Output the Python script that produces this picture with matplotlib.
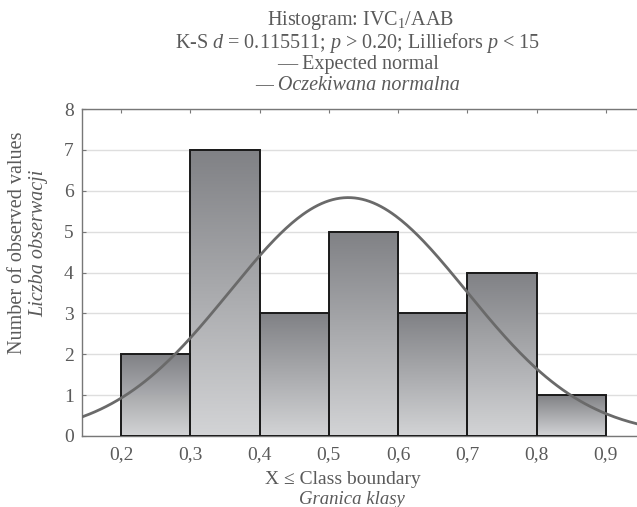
import numpy as np
import matplotlib
matplotlib.use("Agg")
import matplotlib.pyplot as plt
from matplotlib.colors import LinearSegmentedColormap

plt.rcParams['font.family'] = ['Liberation Serif', 'DejaVu Serif']
plt.rcParams['mathtext.fontset'] = 'custom'
plt.rcParams['mathtext.rm'] = 'Liberation Serif'
plt.rcParams['mathtext.it'] = 'Liberation Serif:italic'

# Data
bin_edges = [0.2, 0.3, 0.4, 0.5, 0.6, 0.7, 0.8, 0.9]
counts = [2, 7, 3, 5, 3, 4, 1]
x_ticks = [0.2, 0.3, 0.4, 0.5, 0.6, 0.7, 0.8, 0.9]
x_tick_labels = ["0,2", "0,3", "0,4", "0,5", "0,6", "0,7", "0,8", "0,9"]
y_ticks = [0, 1, 2, 3, 4, 5, 6, 7, 8]
# expected normal parameters
norm_mean = 0.528
norm_sd = 0.171
n_obs = 25

TXT = '#5a5a5a'
fig = plt.figure(figsize=(6.37, 5.07), dpi=100)
ax = fig.add_axes([82/637, 1-436/507, 1-82/637, (436-109)/507])

cmap = LinearSegmentedColormap.from_list('g', ['#d3d4d6', '#808185'])
grad = np.linspace(0, 1, 256).reshape(-1, 1)
lefts = bin_edges[:-1]
widths = np.diff(bin_edges)
bars = ax.bar(lefts, counts, width=widths, align='edge', facecolor='none',
              edgecolor='#1a1a1a', linewidth=1.4, zorder=3)
for b in bars:
    x0, w, h = b.get_x(), b.get_width(), b.get_height()
    ax.imshow(grad, cmap=cmap, origin='lower', aspect='auto',
              extent=[x0, x0 + w, 0, h], zorder=2, interpolation='bilinear')
ax.set_xlim(0.1436, 0.945)
ax.set_ylim(0, 8)

xs = np.linspace(0.1436, 0.945, 300)
binw = bin_edges[1] - bin_edges[0]
ys = n_obs * binw / (norm_sd * np.sqrt(2 * np.pi)) * np.exp(-0.5 * ((xs - norm_mean) / norm_sd) ** 2)
ax.plot(xs, ys, color='#6a6a6a', lw=2.0, zorder=4)

ax.set_yticks(y_ticks)
ax.set_xticks(x_ticks)
ax.set_xticklabels(x_tick_labels)
ax.yaxis.grid(True, color='#dedede', lw=1.0, zorder=0)
ax.set_axisbelow(True)
ax.spines['right'].set_visible(False)
for s in ['left', 'top', 'bottom']:
    ax.spines[s].set_color('#777777')
    ax.spines[s].set_linewidth(1.0)
ax.tick_params(axis='y', direction='in', length=3, color='#777777', labelcolor=TXT,
               labelsize=14, pad=6)
ax.tick_params(axis='x', direction='in', length=3, color='#777777', labelcolor=TXT,
               labelsize=14, bottom=False, top=True, pad=7)

fs = 14.5
fig.text(360/637, 1-21/507, r"Histogram: IVC$_{\mathregular{1}}$/AAB", ha='center', va='center', fontsize=fs, color=TXT)
fig.text(358/637, 1-43/507, r"K-S $d$ = 0.115511; $p$ > 0.20; Lilliefors $p$ < 15", ha='center', va='center', fontsize=fs, color=TXT)
fig.text(358/637, 1-65/507, "— Expected normal", ha='center', va='center', fontsize=fs, color=TXT)
fig.text(358/637, 1-86/507, "— Oczekiwana normalna", ha='center', va='center', fontsize=fs, color=TXT, style='italic')

fig.text(18/637, 1-243/507, "Number of observed values", rotation=90, ha='center', va='center', fontsize=fs, color=TXT)
fig.text(39/637, 1-243/507, "Liczba obserwacji", rotation=90, ha='center', va='center', fontsize=fs, color=TXT, style='italic')
fig.text(343/637, 1-479/507, "X ≤ Class boundary", ha='center', va='center', fontsize=14, color=TXT)
fig.text(352/637, 1-499/507, "Granica klasy", ha='center', va='center', fontsize=13.5, color=TXT, style='italic')

fig.savefig('out.png', dpi=100)
